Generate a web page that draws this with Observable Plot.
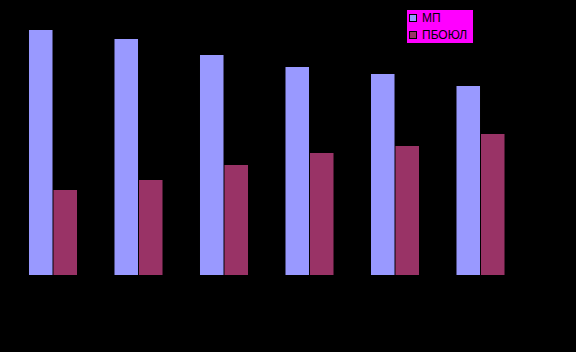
<!DOCTYPE html>
<html>
<head>
<meta charset="utf-8">
<script src="https://cdn.jsdelivr.net/npm/d3@7"></script>
<script src="https://cdn.jsdelivr.net/npm/@observablehq/plot@0.6"></script>
<style>
  html, body { margin: 0; padding: 0; background: #000; }
  #wrap { position: relative; width: 576px; height: 352px; background: #000; overflow: hidden; }
  #legend { position: absolute; left: 407px; top: 10px; width: 66px; height: 33px; background: #FF00FF;
            font-family: "Liberation Sans", Arial, sans-serif; font-size: 12px; color: #000; }
  .item { position: absolute; left: 2px; height: 10px; display: flex; align-items: center; }
  .sw { width: 6px; height: 6px; border: 1px solid #000; margin-right: 5px; }
</style>
</head>
<body>
<div id="wrap"><div id="legend"></div></div>
<script>
const categories = ["1", "2", "3", "4", "5", "6"];
const seriesNames = ["МП", "ПБОЮЛ"];
const seriesColors = ["#9999FF", "#993366"];
const valuesMP = [245, 236, 220, 208, 201, 189];
const valuesPBOYUL = [85, 95, 110, 122, 129, 141];

const data = [];
categories.forEach((c, i) => {
  data.push({cat: c, series: seriesNames[0], value: valuesMP[i]});
  data.push({cat: c, series: seriesNames[1], value: valuesPBOYUL[i]});
});

const chart = Plot.plot({
  width: 576,
  height: 352,
  marginLeft: 10.25,
  marginRight: 52.75,
  marginTop: 30,
  marginBottom: 77,
  style: {background: "#000"},
  fx: {domain: categories, padding: 0, round: false, axis: null, label: null},
  x: {domain: seriesNames, paddingInner: 0.04, paddingOuter: 0.765, round: false, axis: null},
  y: {domain: [0, 245], axis: null},
  color: {domain: seriesNames, range: seriesColors},
  marks: [
    Plot.barY(data, {fx: "cat", x: "series", y: "value", fill: "series"})
  ]
});
document.getElementById("wrap").prepend(chart);
chart.style.display = "block";

const legend = d3.select("#legend");
seriesNames.forEach((s, i) => {
  const item = legend.append("div").attr("class", "item").style("top", (i === 0 ? 3 : 20) + "px");
  item.append("div").attr("class", "sw").style("background", seriesColors[i]);
  item.append("span").text(s);
});
</script>
</body>
</html>
